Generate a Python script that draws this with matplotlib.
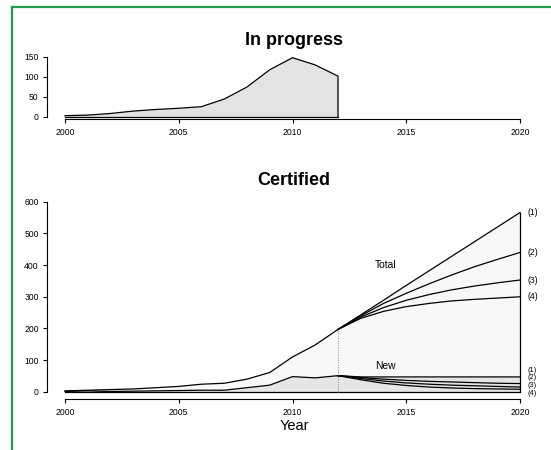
import numpy as np
import matplotlib.pyplot as plt
from matplotlib.lines import Line2D

# ---------------------------------------------------------------------------
# Data
# ---------------------------------------------------------------------------
YEARS_HIST = [2000, 2001, 2002, 2003, 2004, 2005, 2006,
              2007, 2008, 2009, 2010, 2011, 2012]
IN_PROGRESS = [2.5, 4, 8, 14, 18, 21, 25, 44, 74, 117, 147, 129, 101]

TOTAL_HIST = [3, 5, 7, 9, 13, 17, 24, 27, 40, 61, 110, 148, 197]
NEW_HIST = [1, 3, 1, 2, 3, 4, 5, 5, 13, 21, 48, 44, 51]

YEARS_PROJ = [2012, 2013, 2014, 2015, 2016, 2017, 2018, 2019, 2020]
TOTAL_PROJ = [
    [197, 243, 289, 336, 382, 428, 474, 520, 566],   # (1)
    [197, 240, 279, 311, 341, 369, 395, 418, 440],   # (2)
    [197, 236, 266, 289, 307, 322, 334, 344, 353],   # (3)
    [197, 232, 254, 269, 279, 287, 292, 296, 300],   # (4)
]
NEW_PROJ = [
    [51, 47, 47, 47, 47, 47, 47, 47, 47],
    [51, 45, 40, 36, 33, 31, 29, 27, 26],
    [51, 42, 34, 28, 24, 21, 19, 17, 15],
    [51, 38, 27, 20, 15, 12, 10, 9, 8],
]
SCENARIOS = ["(1)", "(2)", "(3)", "(4)"]

X_TICKS = [2000, 2005, 2010, 2015, 2020]

# ---------------------------------------------------------------------------
# Style
# ---------------------------------------------------------------------------
TICK_FS = 6.2
plt.rcParams.update({
    "font.family": ["Liberation Sans", "DejaVu Sans"],
    "font.size": TICK_FS,
    "axes.linewidth": 0.8,
    "xtick.major.size": 2.9,
    "ytick.major.size": 2.9,
    "xtick.major.width": 0.8,
    "ytick.major.width": 0.8,
    "xtick.major.pad": 3.4,
    "ytick.major.pad": 2.9,
})

W, H = 551, 450
fig = plt.figure(figsize=(W / 100, H / 100), dpi=100, facecolor="white")

LINE = dict(color="black", lw=0.9)
FILL_PROG = "#E2E3E3"
FILL_NEW = "#E4E5E5"
FILL_TOTAL = "#F8F8F8"


def r_axes(ax, ylim, yticks):
    ax.set_xlim(1999.2, 2020.8)
    ax.set_ylim(*ylim)
    ax.set_xticks(X_TICKS)
    ax.set_yticks(yticks)
    for s in ("top", "right"):
        ax.spines[s].set_visible(False)
    ax.spines["bottom"].set_bounds(X_TICKS[0], X_TICKS[-1])
    ax.spines["left"].set_bounds(yticks[0], yticks[-1])
    ax.tick_params(labelsize=TICK_FS, colors="black")
    ax.patch.set_alpha(0)


# px helpers
def fx(px):
    return px / W


def fy(py):
    return 1 - py / H


ax_left, ax_w = fx(46.8), 491.4 / W

# ---------------------------------------------------------------------------
# In progress
# ---------------------------------------------------------------------------
ax1 = fig.add_axes([ax_left, fy(119.1), ax_w, 65 / H])
ax1.fill_between(YEARS_HIST, IN_PROGRESS, 0, color=FILL_PROG, lw=0)
ax1.plot(YEARS_HIST + [YEARS_HIST[-1]], IN_PROGRESS + [0], **LINE)
ax1.plot([YEARS_HIST[0], YEARS_HIST[-1]], [0, 0], **LINE)
r_axes(ax1, (-6, 156), [0, 50, 100, 150])
fig.text(fx(294), fy(45), "In progress", ha="center", va="baseline",
         fontsize=13, fontweight="bold")

# ---------------------------------------------------------------------------
# Certified
# ---------------------------------------------------------------------------
ax2 = fig.add_axes([ax_left, fy(399.4), ax_w, 205.2 / H])

top_total = TOTAL_PROJ[0]
top_new = NEW_PROJ[0]
ax2.fill_between(YEARS_HIST + YEARS_PROJ[1:], TOTAL_HIST + top_total[1:], 0,
                 color=FILL_TOTAL, lw=0)
ax2.fill_between(YEARS_HIST + YEARS_PROJ[1:], NEW_HIST + top_new[1:], 0,
                 color=FILL_NEW, lw=0)

ax2.plot(YEARS_HIST, TOTAL_HIST, **LINE)
ax2.plot(YEARS_HIST, NEW_HIST, **LINE)
for tot, new in zip(TOTAL_PROJ, NEW_PROJ):
    ax2.plot(YEARS_PROJ, tot, **LINE)
    ax2.plot(YEARS_PROJ, new, **LINE)

# right edge and baseline of the projection block
ax2.plot([2020, 2020], [0, top_total[-1]], **LINE)
ax2.plot([YEARS_HIST[0], 2020], [0, 0], **LINE)

# present-year marker
ax2.plot([2012, 2012], [0, TOTAL_HIST[-1]], color="#888888", lw=0.7,
         ls=(0, (1, 1.5)))

for lab, tot in zip(SCENARIOS, TOTAL_PROJ):
    ax2.text(2020.35, tot[-1], lab, ha="left", va="center", fontsize=TICK_FS)
# labels for the "new" scenarios are stacked just right of the end points
top_end = max(n[-1] for n in NEW_PROJ)
for i, lab in enumerate(SCENARIOS):
    ax2.text(2020.35, top_end + 21 - i * 24, lab, ha="left", va="center",
             fontsize=5.4)

ax2.text(2014.1, 401, "Total", ha="center", va="center", fontsize=7.4)
ax2.text(2014.1, 82, "New", ha="center", va="center", fontsize=7.4)

r_axes(ax2, (-24, 624), [0, 100, 200, 300, 400, 500, 600])
for t in ax2.texts:
    t.set_clip_on(False)

fig.text(fx(293.5), fy(185), "Certified", ha="center", va="baseline",
         fontsize=13, fontweight="bold")
fig.text(fx(294), fy(425.5), "Year", ha="center", va="center", fontsize=10.5)

# green frame (top and left edges)
green = "#1E9B4B"
fig.add_artist(Line2D([fx(11.5), 1], [fy(7.3), fy(7.3)], color=green, lw=1.6,
                      transform=fig.transFigure))
fig.add_artist(Line2D([fx(12.3), fx(12.3)], [0, fy(6.5)], color=green,
                      lw=1.6, transform=fig.transFigure))

fig.savefig("out.png", dpi=100)
